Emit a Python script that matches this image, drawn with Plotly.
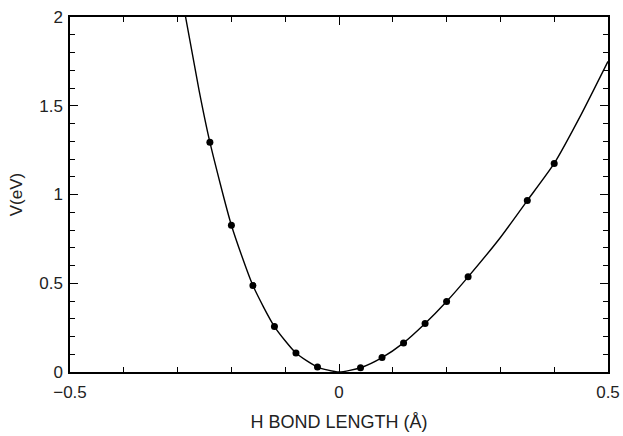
import plotly.graph_objects as go

# Data points
pts_x = [-0.24, -0.20, -0.16, -0.12, -0.08, -0.04, 0.04, 0.08, 0.12, 0.16, 0.20, 0.24, 0.35, 0.40]
pts_y = [1.295, 0.827, 0.487, 0.256, 0.107, 0.028, 0.024, 0.081, 0.164, 0.273, 0.397, 0.536, 0.966, 1.175]

# Fitted curve
curve_x = [-0.29, -0.26, -0.24, -0.20, -0.16, -0.12, -0.08, -0.04, 0.0, 0.04, 0.08, 0.12, 0.16, 0.20, 0.24, 0.30, 0.35, 0.40, 0.45, 0.50]
curve_y = [2.08, 1.585, 1.295, 0.827, 0.487, 0.256, 0.107, 0.028, 0.0, 0.024, 0.081, 0.164, 0.273, 0.397, 0.536, 0.758, 0.966, 1.175, 1.45, 1.75]

x_title = "H BOND LENGTH (Å)"
y_title = "V(eV)"

FONT = "Liberation Sans, Arial, sans-serif"
TXT = "#222222"

fig = go.Figure()
fig.add_trace(go.Scatter(x=curve_x, y=curve_y, mode="lines",
                         line=dict(color="black", width=1.4, shape="spline", smoothing=0.6),
                         showlegend=False, hoverinfo="skip"))
fig.add_trace(go.Scatter(x=pts_x, y=pts_y, mode="markers",
                         marker=dict(color="black", size=7),
                         showlegend=False))

axis_common = dict(
    showline=True, linecolor="black", linewidth=1.5, mirror="ticks",
    ticks="inside", ticklen=8, tickwidth=1.2, tickcolor="black",
    showgrid=False, zeroline=False, automargin=False,
    tickfont=dict(family=FONT, size=17, color=TXT),
    minor=dict(ticks="inside", ticklen=5, tickwidth=1, tickcolor="black", dtick=0.1, showgrid=False),
)

fig.update_xaxes(range=[-0.5, 0.5], dtick=0.5, tick0=0, ticklabelstandoff=4,
                 title=dict(text=x_title, font=dict(family=FONT, size=18, color=TXT), standoff=14),
                 **axis_common)
fig.update_yaxes(range=[0, 2], dtick=0.5, tick0=0, ticklabelstandoff=2,
                 title=dict(text=y_title, font=dict(family=FONT, size=17, color=TXT), standoff=12),
                 **axis_common)

fig.update_layout(
    width=623, height=436,
    margin=dict(l=70, r=15, t=17, b=64),
    paper_bgcolor="white", plot_bgcolor="white",
)

fig.write_html("out.html")
